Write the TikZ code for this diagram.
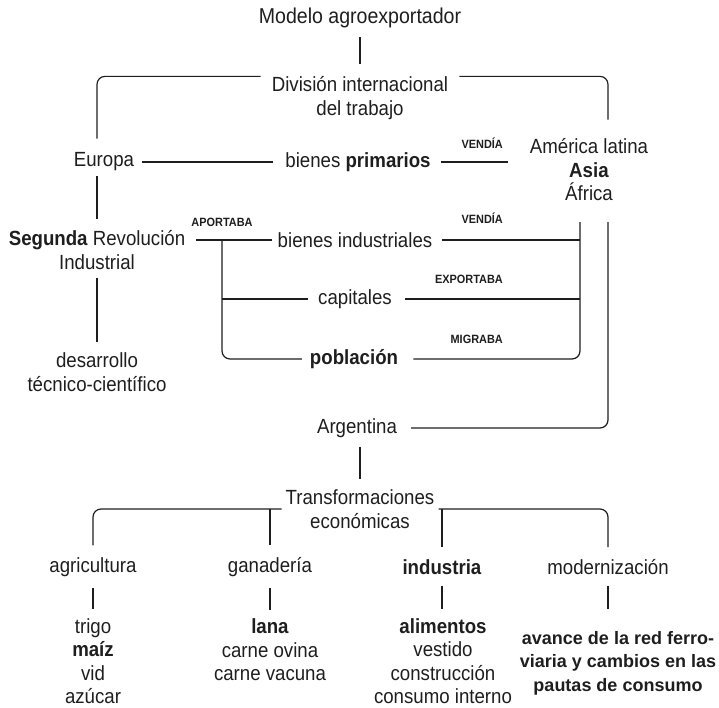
\documentclass[tikz,border=0pt]{standalone}
\usepackage{fontspec}
\setmainfont[FakeStretch=0.91]{Liberation Sans}
\newfontfamily\widebold[BoldFont={Liberation Sans Bold}]{Liberation Sans}
\definecolor{ink}{HTML}{1E1E1E}

\tikzset{
  concept/.style={font=\fontsize{20.5}{23.5}\selectfont, align=center,
    inner sep=0pt, text=ink},
  verb/.style={font=\fontsize{12}{13}\selectfont\bfseries,
    inner sep=0pt, anchor=base east, text=ink},
  link/.style={draw=ink, line width=1.2pt},
  bracket/.style={link, rounded corners=8pt},
}

\begin{document}
\begin{tikzpicture}[x=1pt, y=-1pt]
    \useasboundingbox (0,0) rectangle (719,707);

    % Upper part
    \node[concept, font=\fontsize{21.5}{24}\selectfont] (title) at (360,18) {Modelo agroexportador};
    \node[concept] (division) at (360,98) {División internacional\\del trabajo};
    \node[concept] (europa) at (104,162) {Europa};
    \node[concept] (primarios) at (358,162) {bienes \textbf{primarios}};
    \node[concept] (periferia) at (589,170) {América latina\\\textbf{Asia}\\África};
    \node[concept] (segunda) at (97,250) {\textbf{Segunda} Revolución\\Industrial};
    \node[concept] (desarrollo) at (97,372) {desarrollo\\técnico-científico};
    \node[concept] (industriales) at (355,240) {bienes industriales};
    \node[concept] (capitales) at (355,299) {capitales};
    \node[concept] (poblacion) at (354,359) {\textbf{población}};
    \node[concept] (argentina) at (357,428) {Argentina};

    \node[verb] (vendia) at (503,148.5) {VENDÍA};
    \node[verb] (vendiaind) at (503,223) {VENDÍA};
    \node[verb, anchor=base] (aportaba) at (222,226) {APORTABA};
    \node[verb] (exportaba) at (503,283) {EXPORTABA};
    \node[verb] (migraba) at (503,343) {MIGRABA};

    \coordinate (inner) at (580,222);
    \coordinate (outer) at (608,222);

    % Lower part
    \node[concept] (transf) at (360,509) {Transformaciones\\económicas};
    \node[concept] (agricultura) at (93,567) {agricultura};
    \node[concept] (ganaderia) at (270,567) {ganadería};
    \node[concept] (industria) at (442,567) {\textbf{industria}};
    \node[concept] (modernizacion) at (608,567) {modernización};
    \node[concept] (cultivos) at (93,661) {trigo\\\textbf{maíz}\\vid\\azúcar};
    \node[concept] (lana) at (270,650) {\textbf{lana}\\carne ovina\\carne vacuna};
    \node[concept] (alimentos) at (443,661) {\textbf{alimentos}\\vestido\\construcción\\consumo interno};
    \node[concept, font=\widebold\fontsize{18}{23.5}\selectfont\bfseries] (avance) at (618,663)
        {avance de la red ferro-\\viaria y cambios en las\\pautas de consumo};

    % Connectors, upper part
    \draw[link, shorten <=9pt, shorten >=12pt] (title) -- (division);
    \draw[bracket, shorten <=11pt, shorten >=14pt] (division.north west) -| (europa.north -| segunda.north);
    \draw[bracket, shorten <=11pt, shorten >=19pt] (division.north east) -| (periferia.north -| outer);
    \draw[link, shorten <=8pt, shorten >=12pt] (europa) -- (primarios);
    \draw[link, shorten <=10pt, shorten >=22pt] (primarios) -- (periferia.west |- primarios);
    \draw[link, shorten <=5pt, shorten >=11pt] (europa.south -| segunda.north) -- (segunda.north);
    \draw[link, shorten <=8pt, shorten >=11pt] (segunda) -- (desarrollo);

    \draw[link, shorten <=11pt, shorten >=6pt] (segunda.east |- industriales) -- (industriales);
    \draw[link, shorten <=10pt] (industriales) -- (industriales -| inner);
    \draw[link, shorten >=10pt] (capitales -| aportaba) -- (capitales);
    \draw[link, shorten <=13pt] (capitales) -- (capitales -| inner);
    \draw[bracket, shorten >=8pt] (industriales -| aportaba) |- (poblacion.west);
    \draw[bracket, shorten <=15pt] (poblacion) -| (inner);
    \draw[bracket, shorten <=14pt] (argentina) -| (outer);

    % Connectors, lower part
    \draw[link, shorten <=9pt, shorten >=11pt] (argentina.south -| transf.north) -- (transf.north);
    \draw[bracket, shorten <=4pt, shorten >=12pt] (transf.west) -| (agricultura.north);
    \draw[bracket, shorten <=4pt, shorten >=12pt] (transf.east) -| (modernizacion.north);
    \draw[link, shorten >=12pt] (transf.west -| ganaderia.north) -- (ganaderia.north);
    \draw[link, shorten >=12pt] (transf.east -| industria.north) -- (industria.north);

    \draw[link, shorten <=11pt, shorten >=9pt] (agricultura) -- (cultivos);
    \draw[link, shorten <=11pt, shorten >=9pt] (ganaderia) -- (lana);
    \draw[link, shorten <=11pt, shorten >=9pt] (industria.south) -- (industria.south |- alimentos.north);
    \draw[link, shorten <=11pt, shorten >=22pt] (modernizacion.south) -- (modernizacion.south |- avance.north);
\end{tikzpicture}
\end{document}
